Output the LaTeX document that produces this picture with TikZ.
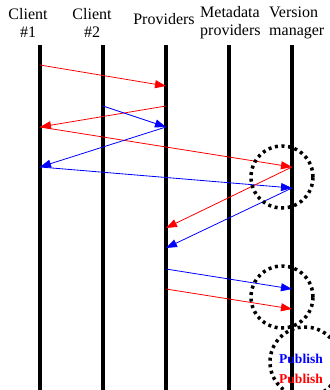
\documentclass[tikz,border=0pt]{standalone}
\usepackage{fontspec}
\setmainfont{Liberation Serif}
\usetikzlibrary{arrows.meta,positioning,calc}

\begin{document}
\begin{tikzpicture}[
  x=1pt, y=-1pt,
  head/.style={inner sep=0pt, font=\fontsize{16}{18}\selectfont},
  lifeline/.style={line width=3.5pt},
  msg/.style={line width=0.8pt, -{Triangle[length=11pt,width=8pt]}},
  redmsg/.style={msg, red},
  bluemsg/.style={msg, blue},
  spot/.style={draw, circle, line width=3.5pt, dash pattern=on 3pt off 3.6pt},
  tag/.style={inner sep=0pt, font=\fontsize{13.5}{15}\selectfont\bfseries}
]
\useasboundingbox (0,0) rectangle (329,390);

% headers
\node[head, align=center] (client1) at (28,23) {Client\\\#1};
\node[head, align=center] (client2) at (92,23) {Client\\\#2};
\node[head, anchor=base] (prov) at (164,25) {Providers};
\node[head, align=left, anchor=west] (meta) at (200,23) {Metadata\\providers};
\node[head, align=left, anchor=west] (vman) at (269,23) {Version\\manager};

% lifelines
\coordinate (c1top) at (40,45);   \coordinate (c1bot) at (40,390);
\coordinate (c2top) at (103,45);  \coordinate (c2bot) at (103,390);
\coordinate (prtop) at (166,45);  \coordinate (prbot) at (166,390);
\coordinate (mdtop) at (229,45);  \coordinate (mdbot) at (229,390);
\coordinate (vmtop) at (292,45);  \coordinate (vmbot) at (292,390);
\draw[lifeline] (c1top) -- (c1bot);
\draw[lifeline] (c2top) -- (c2bot);
\draw[lifeline] (prtop) -- (prbot);
\draw[lifeline] (mdtop) -- (mdbot);
\draw[lifeline] (vmtop) -- (vmbot);

% events on the lifelines
\coordinate (c1a) at (40,65);  \coordinate (c1b) at (40,127); \coordinate (c1c) at (40,167);
\coordinate (c2a) at (103,106);
\coordinate (pra) at (166,86);  \coordinate (prb) at (166,106); \coordinate (prc) at (166,127);
\coordinate (prd) at (166,228); \coordinate (pre) at (166,248);
\coordinate (prf) at (166,269); \coordinate (prg) at (166,289);
\coordinate (vma) at (292,167); \coordinate (vmb) at (292,188);
\coordinate (vmc) at (292,289); \coordinate (vmd) at (292,309);

% messages
\draw[redmsg]  (c1a) -- (pra);
\draw[redmsg]  (prb) -- (c1b);
\draw[bluemsg] (c2a) -- (prc);
\draw[redmsg]  (c1b) -- (vma);
\draw[bluemsg] (prc) -- (c1c);
\draw[bluemsg] (c1c) -- (vmb);
\draw[redmsg]  (vma) -- (prd);
\draw[bluemsg] (vmb) -- (pre);
\draw[bluemsg] (prf) -- (vmc);
\draw[redmsg]  (prg) -- (vmd);

% dotted circles
\node[spot, minimum size=62pt] (spot1) at (282,177) {};
\node[spot, minimum size=62pt] (spot2) at (282,297) {};
\node[spot, minimum size=70pt] (spot3) at (305,362) {};

\node[tag, text=blue] (pub1) at (301,359) {Publish};
\node[tag, text=red]  (pub2) at (301,379) {Publish};
\end{tikzpicture}
\end{document}
